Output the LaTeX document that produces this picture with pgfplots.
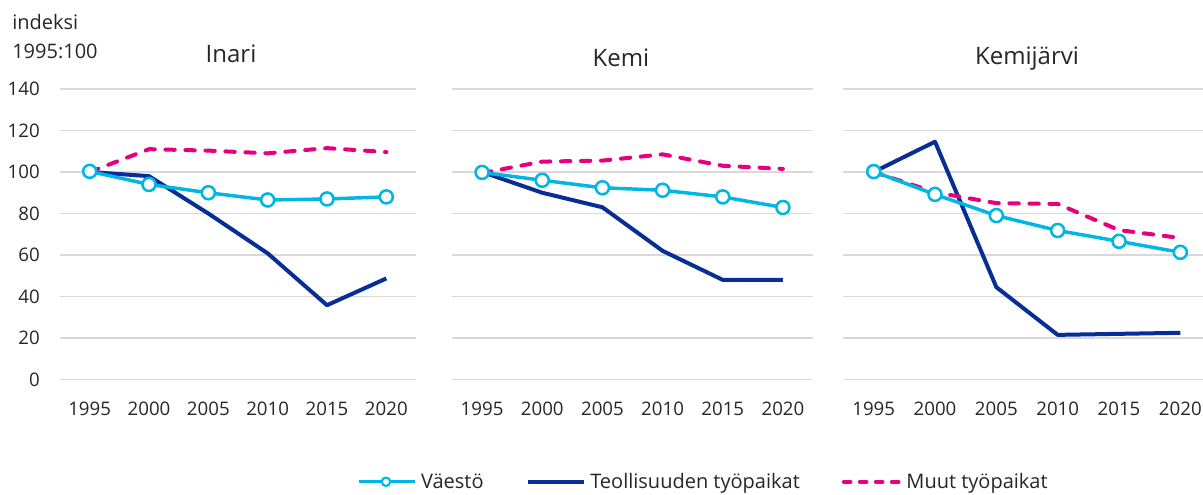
\documentclass[border=0pt]{standalone}
\usepackage{pgfplots}
\pgfplotsset{compat=1.18}
\usepackage{fontspec}
\setmainfont{Open Sans}
\definecolor{cvae}{RGB}{0,182,228}
\definecolor{cteo}{RGB}{8,46,150}
\definecolor{cmuu}{RGB}{230,0,126}
\definecolor{grd}{RGB}{217,217,217}
\definecolor{txt}{RGB}{38,38,38}
\pgfplotsset{
 panel/.style={
  scale only axis, height=217.875pt,
  xmin=-0.5, xmax=5.5, ymin=0, ymax=140,
  xtick={0,...,5}, xticklabels={1995,2000,2005,2010,2015,2020},
  ytick={0,20,...,140},
  ymajorgrids, grid style={grd, line width=0.9pt},
  axis line style={draw=none}, major tick length=0pt,
  tick label style={font=\fontsize{14}{16}\selectfont, text=txt},
  xticklabel style={anchor=north, inner sep=0pt, yshift=-16.9pt},
  yticklabel style={anchor=east, inner sep=0pt, xshift=-15pt},
  /pgf/number format/assume math mode=true,
  clip=false, anchor=south west,
 },
 svae/.style={cvae, line width=2.6pt, line join=round, mark=*, mark size=4.9pt,
   mark options={line width=1.9pt, fill=white, draw=cvae, solid}},
 steo/.style={cteo, line width=3pt, line join=round},
 smuu/.style={cmuu, line width=3pt, line join=round, line cap=round, dash pattern=on 7pt off 8pt},
}
\begin{document}
\begin{tikzpicture}
% Inari
\begin{axis}[panel, at={(45pt,86.625pt)}, width=267pt]
\addplot[steo] coordinates {(0,100) (1,98) (2,80) (3,60.8) (4,35.8) (5,48.7)};
\addplot[smuu] coordinates {(0,100) (1,111) (2,110.3) (3,109) (4,111.5) (5,109.6)};
\addplot[svae] coordinates {(0,100.3) (1,94) (2,90) (3,86.5) (4,87) (5,88)};
\end{axis}
% Kemi
\begin{axis}[panel, at={(339pt,86.625pt)}, width=270.75pt, yticklabels={},
  legend style={at={(axis description cs:-0.264,-0.352)}, anchor=west, draw=none, fill=none,
    inner sep=0pt, font=\fontsize{15}{18}\selectfont, text=txt,
    nodes={inner sep=0pt, inner xsep=3.5pt},
    /tikz/every even column/.append style={column sep=28pt}},
  legend columns=3,
  legend image code/.code={\draw[mark repeat=2,mark phase=2,#1] plot coordinates {(0pt,0pt) (20.5pt,0pt) (42pt,0pt)};}]
\addplot[steo, forget plot] coordinates {(0,100) (1,90) (2,83) (3,62) (4,48) (5,48)};
\addplot[smuu, forget plot] coordinates {(0,99.5) (1,105) (2,105.5) (3,108.5) (4,103) (5,101.5)};
\addplot[svae, forget plot] coordinates {(0,99.8) (1,96) (2,92.4) (3,91.2) (4,88) (5,82.9)};
\addlegendimage{svae, mark size=3.2pt, mark options={line width=1.6pt, fill=white, draw=cvae, solid}}
\addlegendentry{Väestö}
\addlegendimage{steo}
\addlegendentry{Teollisuuden työpaikat}
\addlegendimage{smuu, dash pattern=on 5pt off 7pt}
\addlegendentry{Muut työpaikat}
\end{axis}
% Kemijärvi
\begin{axis}[panel, at={(632.25pt,86.625pt)}, width=276pt, yticklabels={}]
\addplot[steo] coordinates {(0,100) (1,114.6) (2,44.5) (3,21.5) (4,22) (5,22.5)};
\addplot[smuu] coordinates {(0,100) (1,90.2) (2,85) (3,84.6) (4,72) (5,68.2)};
\addplot[svae] coordinates {(0,100.2) (1,89.2) (2,79) (3,71.8) (4,66.6) (5,61.3)};
\end{axis}
\node[anchor=base west, inner sep=0pt, font=\fontsize{15}{18}\selectfont, text=txt] at (9pt,349.1pt) {indeksi};
\node[anchor=base west, inner sep=0pt, font=\fontsize{15}{18}\selectfont, text=txt] at (9pt,327.5pt) {1995:100};
\node[anchor=base, inner sep=0pt, font=\fontsize{18}{21}\selectfont, text=txt] at (173.25pt,324pt) {Inari};
\node[anchor=base, inner sep=0pt, font=\fontsize{18}{21}\selectfont, text=txt] at (465.75pt,321.4pt) {Kemi};
\node[anchor=base, inner sep=0pt, font=\fontsize{18}{21}\selectfont, text=txt] at (770.25pt,322.5pt) {Kemijärvi};
\pgfresetboundingbox
\path[use as bounding box] (0,0) rectangle (902.25pt,371.25pt);
\end{tikzpicture}
\end{document}
